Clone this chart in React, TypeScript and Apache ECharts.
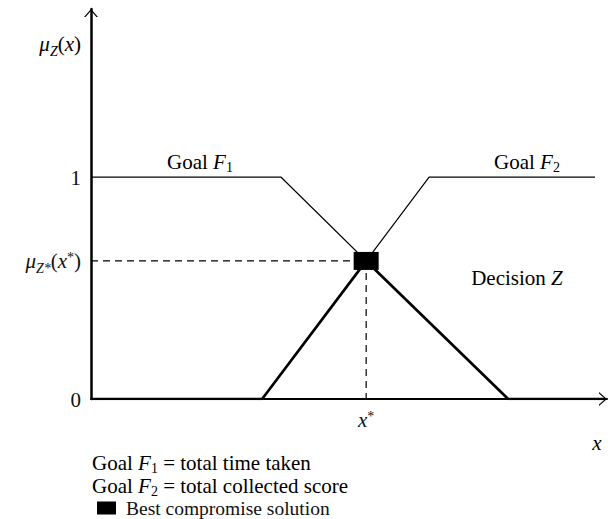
import React, { useEffect, useRef } from "react";
import * as echarts from "echarts";

const f1Points = [[0, 1], [3.65, 1], [5.29, 0.622]];
const f2Points = [[5.29, 0.622], [6.5, 1], [9.69, 1]];
const decisionPoints = [[0, 0], [3.29, 0], [5.29, 0.622], [8.02, 0], [9.85, 0]];
const bestPoint = [5.29, 0.622];
const yTickValues = [0, 0.622, 1];
const xTickValues = [5.29];

const FONT = "'Liberation Serif', 'DejaVu Serif', serif";
const FS = 21;

const rich: any = {
  r: { fontFamily: FONT, fontSize: FS, lineHeight: 20, verticalAlign: "top", color: "#111" },
  i: { fontFamily: FONT, fontSize: FS, fontStyle: "italic", lineHeight: 20, verticalAlign: "top", color: "#111" },
  sub: { fontFamily: FONT, fontSize: 14, lineHeight: 20, padding: [9, 0, 0, 0], verticalAlign: "top", color: "#111" },
  subI: { fontFamily: FONT, fontSize: 14, fontStyle: "italic", lineHeight: 20, padding: [11, 0, 0, 0], verticalAlign: "top", color: "#111" },
  sup: { fontFamily: FONT, fontSize: 14, lineHeight: 20, verticalAlign: "top", color: "#111" },
};

const arrowPath = "path://M0,8 L7,0 L14,8 L12.4,8 L7,1.8 L1.6,8 Z";

export default function App() {
  const ref = useRef<HTMLDivElement>(null);
  useEffect(() => {
    document.body.style.margin = "0";
    const chart = echarts.init(ref.current!, null, { renderer: "svg" });
    const option: any = {
      animation: false,
      backgroundColor: "#fff",
      grid: { left: 91, top: 9, width: 516, height: 390 },
      xAxis: {
        type: "value",
        min: 0,
        max: 9.92,
        splitLine: { show: false },
        axisTick: { show: false },
        axisLine: {
          lineStyle: { color: "#000", width: 2 },
          symbol: ["none", arrowPath],
          symbolSize: [14, 8],
          symbolOffset: [0, -4],
        },
        axisLabel: {
          customValues: xTickValues,
          margin: 10,
          formatter: () => "{i|x}{sup|*}",
          rich,
        },
      },
      yAxis: {
        type: "value",
        min: 0,
        max: 1.757,
        splitLine: { show: false },
        axisTick: { show: false },
        axisLine: {
          lineStyle: { color: "#000", width: 2.5 },
          symbol: ["none", arrowPath],
          symbolSize: [14, 8],
          symbolOffset: [0, -4],
        },
        axisLabel: {
          customValues: yTickValues,
          margin: 10,
          formatter: (v: number) =>
            Math.abs(v - yTickValues[1]) < 1e-6
              ? "{i|μ}{subI|Z*}{r|(}{i|x}{sup|*}{r|)}"
              : "{r|" + v + "}",
          rich,
        },
      },
      legend: {
        left: 97,
        top: 498,
        icon: "rect",
        itemWidth: 19,
        itemHeight: 13,
        itemGap: 0,
        padding: 0,
        data: ["Best compromise solution"],
        textStyle: { fontFamily: FONT, fontSize: 19.5, lineHeight: 13, color: "#111", padding: [0, 0, 2, 5] },
      },
      series: [
        {
          type: "line",
          name: "Goal F1",
          data: f1Points,
          showSymbol: false,
          lineStyle: { color: "#000", width: 1.2 },
          z: 3,
        },
        {
          type: "line",
          name: "Goal F2",
          data: f2Points,
          showSymbol: false,
          lineStyle: { color: "#000", width: 1.2 },
          z: 3,
        },
        {
          type: "line",
          name: "Decision Z",
          data: decisionPoints,
          showSymbol: false,
          lineStyle: { color: "#000", width: 2.7 },
          z: 4,
        },
        {
          type: "line",
          name: "dashH",
          data: [[0, bestPoint[1]], bestPoint],
          showSymbol: false,
          lineStyle: { color: "#000", width: 1.2, type: [7, 5] },
          z: 2,
        },
        {
          type: "line",
          name: "dashV",
          data: [bestPoint, [bestPoint[0], 0]],
          showSymbol: false,
          lineStyle: { color: "#000", width: 1.2, type: [7, 5] },
          z: 2,
        },
        {
          type: "scatter",
          name: "Best compromise solution",
          data: [bestPoint],
          symbol: "rect",
          symbolSize: [25, 18],
          itemStyle: { color: "#000", opacity: 1 },
          z: 10,
        },
      ],
      graphic: [
        {
          type: "text",
          style: { text: "{i|μ}{subI|Z}{r|(}{i|x}{r|)}", rich, x: 81, y: 43, align: "right", verticalAlign: "middle" },
        },
        {
          type: "text",
          style: { text: "{r|Goal }{i|F}{sub|1}", rich, x: 200, y: 161, align: "center", verticalAlign: "middle" },
        },
        {
          type: "text",
          style: { text: "{r|Goal }{i|F}{sub|2}", rich, x: 527, y: 161, align: "center", verticalAlign: "middle" },
        },
        {
          type: "text",
          style: { text: "{r|Decision }{i|Z}", rich, x: 517, y: 277, align: "center", verticalAlign: "middle" },
        },
        {
          type: "text",
          style: { text: "{i|x}", rich, x: 597, y: 442, align: "center", verticalAlign: "middle" },
        },
        {
          type: "text",
          style: { text: "{r|Goal }{i|F}{sub|1}{r| = total time taken}", rich, x: 92, y: 462, align: "left", verticalAlign: "middle" },
        },
        {
          type: "text",
          style: { text: "{r|Goal }{i|F}{sub|2}{r| = total collected score}", rich, x: 92, y: 485, align: "left", verticalAlign: "middle" },
        },
      ],
    };
    chart.setOption(option);
    return () => chart.dispose();
  }, []);
  return <div ref={ref} style={{ width: 613, height: 519 }} />;
}
